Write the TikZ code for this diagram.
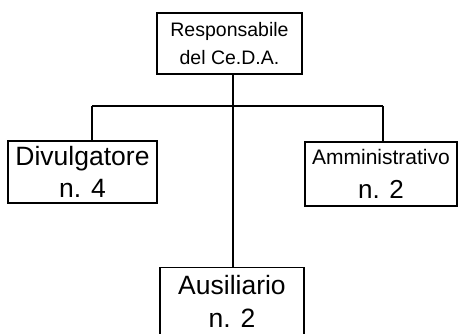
\documentclass[tikz,border=0pt]{standalone}
\usepackage{fontspec}
\setmainfont{Liberation Sans}
\tikzset{
    box/.style={draw,line width=1.1pt,align=center,inner sep=0pt},
    conn/.style={line width=1.1pt}
}
\begin{document}
\begin{tikzpicture}[x=1pt,y=-1pt]
    \useasboundingbox (0,0) rectangle (459,334);
\node[box,minimum width=145pt,minimum height=61pt,font=\fontsize{19.5}{28}\selectfont] (resp) at (229.5,43.5) {Responsabile\\del Ce.D.A.};
\node[box,minimum width=149pt,minimum height=62pt,font=\fontsize{26.5}{32}\selectfont] (divul) at (82.5,172) {Divulgatore\\n. 4};
\node[box,minimum width=152pt,minimum height=64pt,font=\fontsize{26}{34}\selectfont] (ammin) at (381,174) {{\fontsize{21}{24}\selectfont Amministrativo}\\n. 2};
\node[box,minimum width=144pt,minimum height=68pt,font=\fontsize{26.5}{33}\selectfont] (ausil) at (232,301.5) {Ausiliario\\n. 2};
    \coordinate (barL) at (92,106);
    \coordinate (barR) at (383,106);
    \draw[conn] (resp.south -| 233,0) -- (ausil.north -| 233,0);
    \draw[conn] (barL) -- (barR);
    \draw[conn] (barL) -- (barL |- divul.north);
    \draw[conn] (barR) -- (barR |- ammin.north);
\end{tikzpicture}
\end{document}
